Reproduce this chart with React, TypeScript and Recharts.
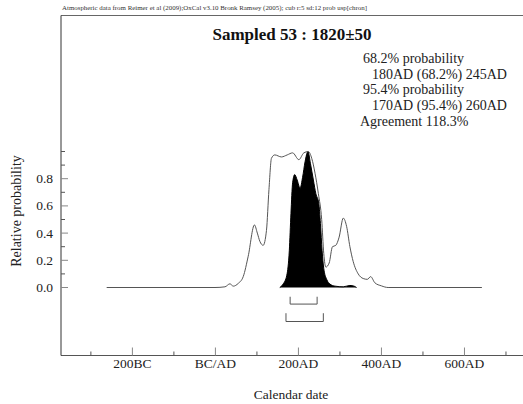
import { ComposedChart, Area, Line, XAxis, YAxis, ReferenceLine } from 'recharts';

// unmodelled distribution (outline)
const outlineYears = [-262, -1, 23, 35, 43, 55, 67, 79, 94, 101, 107, 115, 123, 129, 135, 143, 159, 173, 186, 201, 213, 224, 232, 240, 248, 256, 261, 266, 274, 282, 290, 298, 308, 316, 324, 332, 344, 356, 366, 374, 384, 400, 416, 642];
const outlineProb = [0, 0, 0.005, 0.027, 0.01, 0.03, 0.08, 0.23, 0.46, 0.4, 0.34, 0.31, 0.42, 0.72, 0.95, 0.975, 0.96, 0.975, 0.99, 0.94, 0.99, 1.0, 0.95, 0.84, 0.69, 0.5, 0.25, 0.15, 0.18, 0.3, 0.31, 0.37, 0.51, 0.45, 0.3, 0.19, 0.1, 0.066, 0.06, 0.08, 0.035, 0.012, 0, 0];

// modelled distribution (black)
const postYears = [155, 163, 172, 178, 182, 186, 191, 197, 204, 210, 216, 223, 229, 236, 242, 249, 253, 257, 261, 268, 276, 288, 308, 324, 334, 340];
const postProb = [0, 0.025, 0.09, 0.27, 0.545, 0.77, 0.83, 0.79, 0.73, 0.81, 0.925, 1.0, 0.91, 0.79, 0.69, 0.62, 0.47, 0.27, 0.14, 0.06, 0.025, 0.01, 0.005, 0.015, 0.01, 0];

// ranges
const range68 = [180, 245];
const range95 = [170, 260];

const xTicks = [-300, -200, -100, 0, 100, 200, 300, 400, 500, 600, 700];
const yTicks = [0, 0.1, 0.2, 0.3, 0.4, 0.5, 0.6, 0.7, 0.8, 0.9, 1.0];
const yTickLabels = ['0.0', '', '0.2', '', '0.4', '', '0.6', '', '0.8', '', ''];

const infoLines = [
  '68.2% probability',
  '180AD (68.2%) 245AD',
  '95.4% probability',
  '170AD (95.4%) 260AD',
  'Agreement 118.3%',
];
const infoX = [363, 372, 363, 372, 360];

const outlineData = outlineYears.map((year, i) => ({ year, p: outlineProb[i] }));
const postData = postYears.map((year, i) => ({ year, p: postProb[i] }));

const FONT = "'Liberation Serif', 'Times New Roman', serif";
const AXIS = '#555';

const yearLabel = (v: number) => (v === 0 ? 'BC/AD' : v < 0 ? `${-v}BC` : `${v}AD`);

const XTick = (props: any) => {
  const { x, y, payload } = props;
  const major = payload.value % 200 === 0;
  return (
    <g>
      <line x1={x} x2={x} y1={y} y2={y - (major ? 8 : 4)} stroke={major ? '#888' : AXIS} />
      {major && (
        <text x={x} y={y + 12.5} textAnchor="middle" fontFamily={FONT} fontSize={13.5} fill="#222">
          {yearLabel(payload.value)}
        </text>
      )}
    </g>
  );
};

const YTick = (props: any) => {
  const { x, y, index } = props;
  const label = yTickLabels[index];
  return (
    <g>
      <line x1={x} x2={x + (label ? 7 : 4)} y1={y} y2={y} stroke={label ? '#888' : AXIS} />
      {label && (
        <text x={x - 8} y={y + 4.5} textAnchor="end" fontFamily={FONT} fontSize={13.5} fill="#222">
          {label}
        </text>
      )}
    </g>
  );
};

const bracket = (r: number[], top: number, bottom: number, key: string) => [
  <ReferenceLine key={key + 'l'} segment={[{ x: r[0], y: top }, { x: r[0], y: bottom }]} stroke={AXIS} ifOverflow="visible" />,
  <ReferenceLine key={key + 'h'} segment={[{ x: r[0], y: bottom }, { x: r[1], y: bottom }]} stroke={AXIS} ifOverflow="visible" />,
  <ReferenceLine key={key + 'r'} segment={[{ x: r[1], y: top }, { x: r[1], y: bottom }]} stroke={AXIS} ifOverflow="visible" />,
];

export default function App() {
  return (
    <div style={{ position: 'absolute', left: 0, top: 0, width: 523, height: 404, background: '#fff' }}>
      <ComposedChart width={523} height={404} margin={{ top: 15.5, right: 0, bottom: 0, left: 0 }}>
        <XAxis
          type="number"
          dataKey="year"
          domain={[-372, 741]}
          allowDataOverflow
          ticks={xTicks}
          interval={0}
          tickSize={0}
          tickMargin={0}
          tickLine={false}
          tick={<XTick />}
          height={48.5}
          axisLine={{ stroke: AXIS }}
        />
        <YAxis
          type="number"
          dataKey="p"
          domain={[-0.5, 2]}
          allowDataOverflow
          ticks={yTicks}
          interval={0}
          tickSize={0}
          tickMargin={0}
          tickLine={false}
          tick={<YTick />}
          width={61}
          axisLine={{ stroke: '#333' }}
        />
        <ReferenceLine y={2} stroke="#666" />
        <Area
          data={postData}
          dataKey="p"
          type="monotone"
          baseValue={0}
          stroke="#000"
          fill="#000"
          fillOpacity={1}
          strokeWidth={1}
          isAnimationActive={false}
        />
        <Line
          data={outlineData}
          dataKey="p"
          type="monotone"
          stroke="#555"
          strokeWidth={1}
          dot={false}
          isAnimationActive={false}
        />
        {bracket(range68, -0.068, -0.122, 'a')}
        {bracket(range95, -0.189, -0.25, 'b')}
      </ComposedChart>
      <svg width={523} height={404} style={{ position: 'absolute', left: 0, top: 0, pointerEvents: 'none' }}>
        <text x={62} y={10} fontFamily={FONT} fontSize={6.9} fill="#333">
          Atmospheric data from Reimer et al (2009);OxCal v3.10 Bronk Ramsey (2005); cub r:5 sd:12 prob usp[chron]
        </text>
        <text x={292} y={40} textAnchor="middle" fontFamily={FONT} fontSize={17} fontWeight="bold" fill="#111">
          Sampled 53 : 1820±50
        </text>
        {infoLines.map((s, i) => (
          <text key={i} x={infoX[i]} y={63 + i * 15.7} fontFamily={FONT} fontSize={14} fill="#222">
            {s}
          </text>
        ))}
        <text transform="translate(21,211) rotate(-90)" textAnchor="middle" fontFamily={FONT} fontSize={14} fill="#222">
          Relative probability
        </text>
        <text x={291} y={399} textAnchor="middle" fontFamily={FONT} fontSize={13.5} fill="#222">
          Calendar date
        </text>
      </svg>
    </div>
  );
}
